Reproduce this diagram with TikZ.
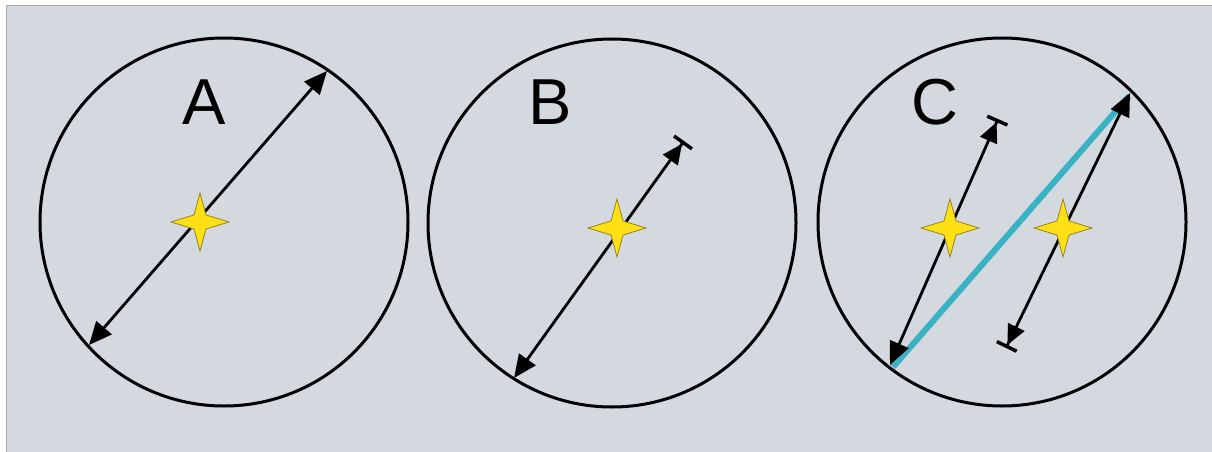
\documentclass[tikz,border=0pt]{standalone}
\usepackage{fontspec}
\setmainfont{Liberation Sans}
\usetikzlibrary{arrows.meta}
\definecolor{bg}{RGB}{212,217,224}
\definecolor{frame}{RGB}{165,168,172}
\definecolor{cyanline}{RGB}{56,178,196}
\definecolor{staryellow}{RGB}{255,224,20}
\definecolor{staredge}{RGB}{150,130,30}
\tikzset{
  ring/.style={circle, draw=black, line width=3pt, minimum size=368pt, inner sep=0pt},
  lbl/.style={font=\fontsize{65}{70}\selectfont, text=black, inner sep=0pt},
  dbl/.style={line width=2.8pt, {Triangle[length=23pt,width=20pt]}-{Triangle[length=23pt,width=20pt]}},
  teeend/.style={line width=2.8pt, {Triangle[length=23pt,width=20pt]}-{Triangle[length=20pt,width=18pt,sep=0pt]Bar[width=22pt,line width=3.5pt,sep=0pt]}},
  starshape/.style={fill=staryellow, draw=staredge, line width=0.8pt},
  cyanl/.style={draw=cyanline, line width=6pt}
}
\newcommand{\mystar}[1]{\fill[starshape] (#1) ++(0,-29) -- ++(6,22) -- ++(23,7) -- ++(-23,7) -- ++(-6,22) -- ++(-6,-22) -- ++(-23,-7) -- ++(23,-7) -- cycle;}
\begin{document}
\begin{tikzpicture}[x=1pt,y=-1pt]
\useasboundingbox (0,0) rectangle (1212,452);
\fill[white] (0,0) rectangle (1212,452);
\fill[bg] (6,5) rectangle (1212,452);
\draw[frame, line width=1.5pt] (6.5,452) -- (6.5,5.5) -- (1212,5.5);
% circles
\node[ring] (ca) at (224,222) {};
\node[ring] (cb) at (612,223) {};
\node[ring] (cc) at (1002,222) {};
% labels
\node[lbl] (la) at (204,102) {A};
\node[lbl] (lb) at (550,102) {B};
\node[lbl] (lc) at (935,102) {C};
% A
\coordinate (a1) at (89,345);
\coordinate (a2) at (327,71);
\draw[dbl] (a1) -- (a2);
\coordinate (sa) at (200,222);
\mystar{sa}
% B
\coordinate (b1) at (514,378);
\coordinate (b2) at (684,141);
\draw[teeend] (b1) -- (b2);
\coordinate (sb) at (617,228);
\mystar{sb}
% C
\coordinate (k1) at (893,367);
\coordinate (k2) at (1129,96);
\draw[cyanl] (k1) -- (k2);
\coordinate (c1) at (890,365);
\coordinate (c2) at (998,119);
\draw[teeend] (c1) -- (c2);
\coordinate (c3) at (1130,93);
\coordinate (c4) at (1006,348);
\draw[teeend] (c3) -- (c4);
\coordinate (sc1) at (950,228);
\mystar{sc1}
\coordinate (sc2) at (1063,228);
\mystar{sc2}
\end{tikzpicture}
\end{document}
